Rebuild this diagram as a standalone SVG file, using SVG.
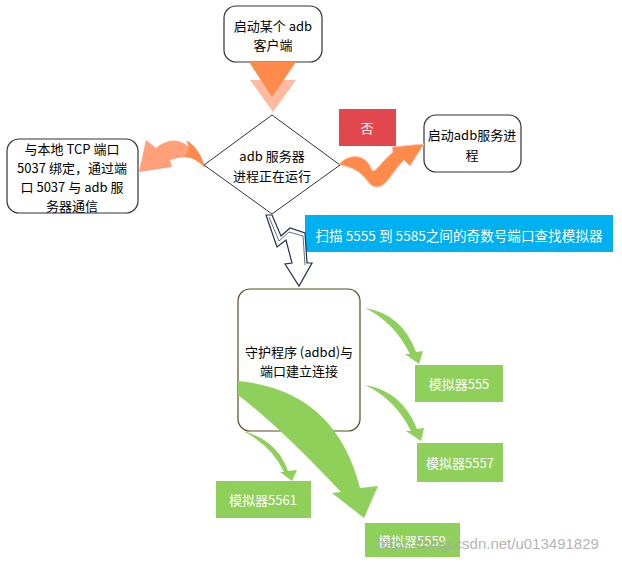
<svg xmlns="http://www.w3.org/2000/svg" width="622" height="563" viewBox="0 0 622 563">
<style>
.t{font-family:"Microsoft YaHei","Noto Sans CJK SC","Noto Sans",sans-serif;font-size:13px;fill:#000;text-anchor:middle}
.w{fill:#fff}
.box{fill:#fff;stroke:#333;stroke-width:1.2}
.g{fill:#8ED05A}
.ga{fill:#8ED05A}
</style>
<rect width="622" height="563" fill="#fff"/>
<g id="start">
  <rect x="224" y="6" width="98" height="56" rx="12" class="box"/>
  <text class="t" x="273" y="31">启动某个 adb</text>
  <text class="t" x="273" y="50">客户端</text>
</g>
<g id="decision">
  <polygon points="272,115 340,165 272,214 204,165" fill="#fff" stroke="#333" stroke-width="1"/>
  <text class="t" x="272" y="161">adb 服务器</text>
  <text class="t" x="272" y="181">进程正在运行</text>
</g>
<g id="bind">
  <rect x="7" y="139" width="131" height="74" rx="12" class="box"/>
  <text class="t" x="72" y="154">与本地 TCP 端口</text>
  <text class="t" x="72" y="173">5037 绑定，通过端</text>
  <text class="t" x="72" y="192">口 5037 与 adb 服</text>
  <text class="t" x="72" y="211">务器通信</text>
</g>
<g id="no">
  <rect x="339" y="109" width="57" height="37" fill="#E2474D"/>
  <text class="t w" x="367" y="133">否</text>
</g>
<g id="startserver">
  <rect x="424" y="115" width="97" height="57" rx="12" class="box"/>
  <text class="t" x="472" y="140">启动adb服务进</text>
  <text class="t" x="472" y="160">程</text>
</g>
<g id="scan">
  <rect x="305" y="215" width="308" height="37" fill="#00B0F0"/>
  <text class="t w" x="459" y="241" style="font-size:13.6px">扫描 5555 到 5585之间的奇数号端口查找模拟器</text>
</g>
<g id="daemon">
  <rect x="238" y="289" width="122" height="142" rx="12" fill="#fff" stroke="#5C4A1E" stroke-width="1.2"/>
  <text class="t" x="299" y="357">守护程序 (adbd)与</text>
  <text class="t" x="299" y="376">端口建立连接</text>
</g>
<g id="emu5555">
  <rect x="415" y="365" width="88" height="37" class="g"/>
  <text class="t w" x="459" y="389">模拟器555</text>
</g>
<g id="emu5557">
  <rect x="417" y="443" width="86" height="39" class="g"/>
  <text class="t w" x="460" y="468">模拟器5557</text>
</g>
<g id="emu5561">
  <rect x="216" y="481" width="95" height="37" class="g"/>
  <text class="t w" x="263" y="505">模拟器5561</text>
</g>
<g id="emu5559">
  <rect x="365" y="523" width="95" height="34" class="g"/>
  <text class="t w" x="412" y="546">模拟器5559</text>
</g>
<g id="connectors">
  <polygon points="250,80 296,80 273,112" fill="#FFBBA0"/>
  <polygon points="249,62 296,62 272,97" fill="#FF8A4C"/>
  <path d="M139,172 L146,140 L156,148 Q182,126 205,168 Q194,152 170,160 L172,167 Z" fill="#FFA07A"/>
  <path d="M186,140 Q200,148 205,168 Q196,158 184,156 Q192,150 186,140 Z" fill="#FF8A4C"/>
  <path d="M340,163 C352,152 366,156 371,168 C374,176 378,165 393,152 L392,147 L424,144 L410,166 L404,160 C392,172 386,188 376,187 C366,186 368,170 340,165 Z" fill="#FF8A4C" stroke="#FFC4AA" stroke-width="1"/>
  <polygon points="266,215 272,215 281,236 290,228 305,233 307,263 312,263 299,286 285,264 292,263 286,240 277,247" fill="#fff" stroke="#1F3050" stroke-width="1.2"/>
  <polyline points="269,217 279,241 289,232 303,236 305,265" fill="none" stroke="#1F3050" stroke-width="0.7"/>
  <path d="M365,308 Q402,314 416,352 L423,351 L419,364 L405,354 L410,354 Q394,322 365,308 Z" class="ga"/>
  <path d="M365,385 Q402,391 417,429 L424,428 L421,441 L406,431 L411,431 Q395,399 365,385 Z" class="ga"/>
  <path d="M243,431 Q277,440 288,471 L297,470 L292,481 L280,472 L284,472 Q272,446 243,431 Z" class="ga"/>
  <path d="M238,381 Q335,390 360,488 L378,486 L364,518 L332,493 L341,492 Q278,425 238,395 Z" class="ga"/>
</g>
<text x="377" y="549" style="font-family:'Liberation Sans',Arial,sans-serif;font-size:15px;fill:#aaa;opacity:0.85">https://blog.csdn.net/u013491829</text>
</svg>
